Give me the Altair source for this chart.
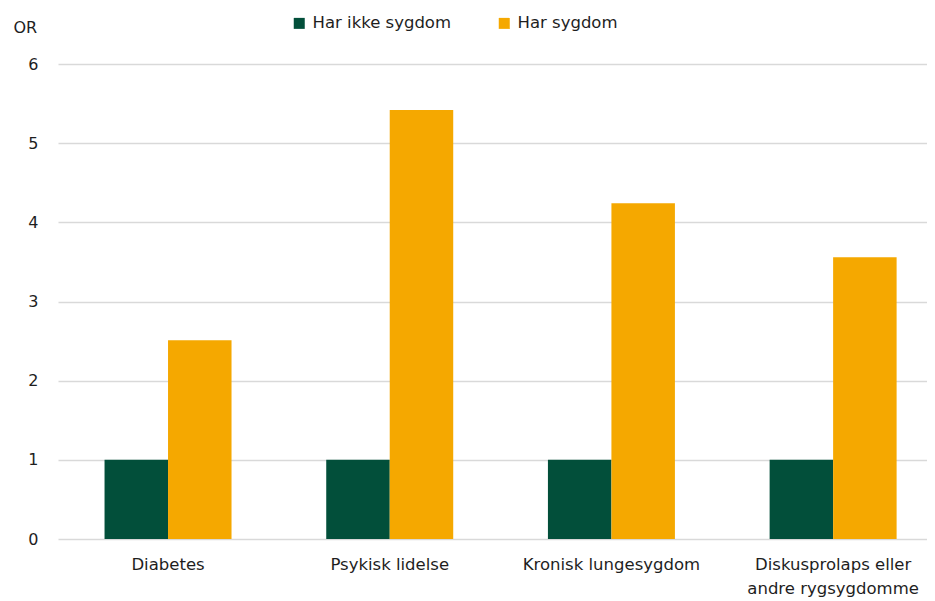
import altair as alt
import pandas as pd

categories = ["Diabetes", "Psykisk lidelse", "Kronisk lungesygdom",
              "Diskusprolaps eller\nandre rygsygdomme"]
series = ["Har ikke sygdom", "Har sygdom"]
har_ikke = [1.0, 1.0, 1.0, 1.0]
har = [2.51, 5.42, 4.24, 3.56]
colors = ["#024F3A", "#F5A800"]

rows = []
for c, a, b in zip(categories, har_ikke, har):
    rows.append({"kategori": c, "gruppe": series[0], "OR": a})
    rows.append({"kategori": c, "gruppe": series[1], "OR": b})
df = pd.DataFrame(rows)

FONT = "DejaVu Sans"
TXT = "#1e1e1e"

chart = alt.Chart(df).mark_bar().encode(
    x=alt.X("kategori:N", sort=categories, title=None,
            scale=alt.Scale(paddingInner=0.4272, paddingOuter=0.1735, align=0.605),
            axis=alt.Axis(labelAngle=0, ticks=False, domain=False,
                          labelExpr="split(datum.label, '\\n')",
                          labelFontSize=16.5, labelFont=FONT, labelColor=TXT,
                          labelPadding=17, labelLineHeight=24,
                          labelBaseline="top")),
    xOffset=alt.XOffset("gruppe:N", sort=series),
    y=alt.Y("OR:Q", scale=alt.Scale(domain=[0, 6]),
            axis=alt.Axis(values=[0, 1, 2, 3, 4, 5, 6], ticks=False, domain=False,
                          gridColor="#d9d9d9", gridWidth=1.5,
                          labelFontSize=16, labelFont=FONT, labelColor=TXT,
                          labelPadding=20,
                          title="OR", titleAngle=0, titleX=-45, titleY=-37,
                          titleAlign="left", titleBaseline="middle",
                          titleFontSize=16, titleFont=FONT, titleColor=TXT,
                          titleFontWeight="normal")),
    color=alt.Color("gruppe:N", sort=series,
                    scale=alt.Scale(domain=series, range=colors),
                    legend=alt.Legend(title=None, orient="none", direction="horizontal",
                                      legendX=233, legendY=-49,
                                      symbolType="square", symbolSize=121,
                                      symbolStrokeWidth=0, labelOffset=5,
                                      columnPadding=44,
                                      labelFontSize=16.5, labelFont=FONT,
                                      labelColor=TXT)),
).properties(
    width=869, height=475,
    autosize=alt.AutoSizeParams(type="none"),
    padding={"left": 50, "top": 56, "right": 0, "bottom": 58},
).configure_view(stroke=None)

chart.save("out.html", embed_options={"renderer": "svg", "actions": False})
